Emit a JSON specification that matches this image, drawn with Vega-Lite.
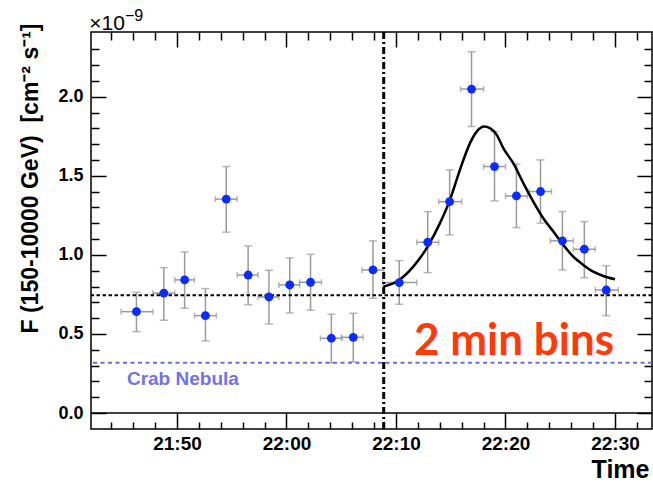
{
  "$schema": "https://vega.github.io/schema/vega-lite/v6.json",
  "width": 561,
  "height": 397,
  "autosize": {"type": "none"},
  "padding": {"left": 91, "top": 32, "right": 1, "bottom": 53},
  "background": "white",
  "config": {
    "view": {"stroke": "black", "strokeWidth": 1.5},
    "font": "Liberation Sans"
  },
  "datasets": {
    "pts": [
      {"t": 1306.3, "f": 0.641, "flo": 0.515, "fhi": 0.764, "tlo": 1304.9, "thi": 1307.8},
      {"t": 1308.8, "f": 0.758, "flo": 0.587, "fhi": 0.920, "tlo": 1307.8, "thi": 1309.8},
      {"t": 1310.7, "f": 0.842, "flo": 0.663, "fhi": 1.019, "tlo": 1309.8, "thi": 1311.6},
      {"t": 1312.6, "f": 0.616, "flo": 0.456, "fhi": 0.787, "tlo": 1311.6, "thi": 1313.6},
      {"t": 1314.5, "f": 1.353, "flo": 1.144, "fhi": 1.559, "tlo": 1313.5, "thi": 1315.5},
      {"t": 1316.5, "f": 0.873, "flo": 0.685, "fhi": 1.057, "tlo": 1315.5, "thi": 1317.4},
      {"t": 1318.4, "f": 0.734, "flo": 0.563, "fhi": 0.903, "tlo": 1317.4, "thi": 1319.3},
      {"t": 1320.3, "f": 0.810, "flo": 0.633, "fhi": 0.981, "tlo": 1319.3, "thi": 1321.2},
      {"t": 1322.2, "f": 0.827, "flo": 0.650, "fhi": 1.004, "tlo": 1321.2, "thi": 1323.2},
      {"t": 1324.1, "f": 0.473, "flo": 0.318, "fhi": 0.625, "tlo": 1323.1, "thi": 1325.1},
      {"t": 1326.1, "f": 0.479, "flo": 0.323, "fhi": 0.631, "tlo": 1325.0, "thi": 1327.0},
      {"t": 1327.9, "f": 0.905, "flo": 0.726, "fhi": 1.089, "tlo": 1326.9, "thi": 1328.9},
      {"t": 1330.3, "f": 0.825, "flo": 0.688, "fhi": 0.964, "tlo": 1328.8, "thi": 1331.9},
      {"t": 1332.9, "f": 1.080, "flo": 0.888, "fhi": 1.274, "tlo": 1331.9, "thi": 1333.9},
      {"t": 1334.9, "f": 1.337, "flo": 1.127, "fhi": 1.538, "tlo": 1333.9, "thi": 1336.0},
      {"t": 1336.9, "f": 2.049, "flo": 1.812, "fhi": 2.285, "tlo": 1335.9, "thi": 1338.0},
      {"t": 1339.0, "f": 1.559, "flo": 1.342, "fhi": 1.780, "tlo": 1338.0, "thi": 1340.0},
      {"t": 1341.0, "f": 1.373, "flo": 1.173, "fhi": 1.574, "tlo": 1340.0, "thi": 1342.0},
      {"t": 1343.2, "f": 1.401, "flo": 1.201, "fhi": 1.601, "tlo": 1342.2, "thi": 1344.2},
      {"t": 1345.2, "f": 1.089, "flo": 0.905, "fhi": 1.274, "tlo": 1344.1, "thi": 1346.2},
      {"t": 1347.2, "f": 1.036, "flo": 0.856, "fhi": 1.211, "tlo": 1346.2, "thi": 1348.2},
      {"t": 1349.2, "f": 0.778, "flo": 0.616, "fhi": 0.932, "tlo": 1348.2, "thi": 1350.3}
    ],
    "curve": [
      {"t": 1328.84, "f": 0.799}, {"t": 1330.30, "f": 0.842}, {"t": 1331.58, "f": 0.926},
      {"t": 1332.89, "f": 1.053}, {"t": 1334.02, "f": 1.201}, {"t": 1334.93, "f": 1.348},
      {"t": 1335.84, "f": 1.538}, {"t": 1336.76, "f": 1.707}, {"t": 1337.37, "f": 1.780},
      {"t": 1338.06, "f": 1.812}, {"t": 1338.58, "f": 1.802}, {"t": 1339.20, "f": 1.759},
      {"t": 1339.80, "f": 1.675}, {"t": 1340.71, "f": 1.580}, {"t": 1341.63, "f": 1.454},
      {"t": 1342.54, "f": 1.337}, {"t": 1343.45, "f": 1.232}, {"t": 1344.37, "f": 1.148},
      {"t": 1345.28, "f": 1.063}, {"t": 1346.19, "f": 0.989}, {"t": 1347.10, "f": 0.937},
      {"t": 1348.02, "f": 0.894}, {"t": 1348.93, "f": 0.867}, {"t": 1350.00, "f": 0.846}
    ],
    "refs": [
      {"name": "mean", "f": 0.745},
      {"name": "crab", "f": 0.318},
      {"name": "zero", "f": 0}
    ],
    "vline": [{"t": 1328.88}],
    "labels": [
      {"name": "bins", "text": "2 min bins", "t": 1340.78, "f": 0.367},
      {"name": "crab", "text": "Crab Nebula", "t": 1305.43, "f": 0.215},
      {"name": "exp", "text": "×10", "t": 1302.0, "f": 2.424},
      {"name": "sup", "text": "−9", "t": 1305.25, "f": 2.478}
    ]
  },
  "resolve": {"axis": {"x": "independent", "y": "independent"}},
  "layer": [
    {
      "data": {"name": "pts"},
      "mark": {"type": "rule", "color": "#9a9a9a", "strokeWidth": 1.5},
      "encoding": {
        "x": {"field": "t", "type": "quantitative",
          "scale": {"domain": [1302.15, 1353.38], "nice": false, "zero": false},
          "axis": {"orient": "bottom", "offset": -16, "values": [1310, 1320, 1330, 1340, 1350], "tickSize": 16, "tickWidth": 1.5, "tickColor": "black",
            "labelPadding": 5, "labelFont": "Liberation Sans", "labelFontWeight": "bold", "labelFontSize": 19, "labelColor": "black",
            "labelExpr": "floor(datum.value/60) + ':' + (datum.value % 60 < 10 ? '0' : '') + (datum.value % 60)",
            "labelFlush": false, "labelOverlap": false, "domain": false, "grid": false,
            "title": "Time", "titleFont": "Liberation Sans", "titleFontSize": 25, "titleFontWeight": "bold", "titleColor": "black",
            "titleAlign": "right", "titleAnchor": "end", "titleX": 558, "titleY": 64, "titleBaseline": "alphabetic"}},
        "y": {"field": "flo", "type": "quantitative",
          "scale": {"domain": [-0.101, 2.41], "nice": false, "zero": false},
          "axis": {"orient": "left", "offset": -15, "values": [0, 0.5, 1, 1.5, 2], "tickSize": 15, "tickWidth": 1.5, "tickColor": "black",
            "labelPadding": 8, "labelFont": "Liberation Sans", "labelFontWeight": "bold", "labelFontSize": 18, "labelColor": "black",
            "format": ".1f", "labelFlush": false, "labelOverlap": false, "labelBaseline": "middle", "domain": false, "grid": false,
            "title": "F (150-10000 GeV)\u00a0\u00a0[cm⁻² s⁻¹]", "titleFont": "Liberation Sans", "titleFontSize": 23, "titleFontWeight": "bold", "titleColor": "black",
            "titleAngle": -90, "titleAlign": "center", "titleBaseline": "middle", "titleX": -76, "titleY": 146}},
        "y2": {"field": "fhi"}
      }
    },
    {
      "data": {"name": "pts"},
      "mark": {"type": "rule", "color": "#9a9a9a", "strokeWidth": 1.5},
      "encoding": {
        "x": {"field": "tlo", "type": "quantitative",
          "scale": {"domain": [1302.15, 1353.38], "nice": false, "zero": false},
          "axis": {"orient": "bottom", "offset": -7, "values": [1304, 1306, 1308, 1312, 1314, 1316, 1318, 1322, 1324, 1326, 1328, 1332, 1334, 1336, 1338, 1342, 1344, 1346, 1348, 1352],
            "tickSize": 7, "tickWidth": 1.5, "tickColor": "black", "labels": false, "domain": false, "grid": false, "title": null}},
        "x2": {"field": "thi"},
        "y": {"field": "f", "type": "quantitative",
          "scale": {"domain": [-0.101, 2.41], "nice": false, "zero": false},
          "axis": {"orient": "left", "offset": -8, "values": [0.1, 0.2, 0.3, 0.4, 0.6, 0.7, 0.8, 0.9, 1.1, 1.2, 1.3, 1.4, 1.6, 1.7, 1.8, 1.9, 2.1, 2.2, 2.3],
            "tickSize": 8, "tickWidth": 1.5, "tickColor": "black", "labels": false, "domain": false, "grid": false, "title": null}}
      }
    },
    {
      "data": {"name": "pts"},
      "mark": {"type": "tick", "orient": "horizontal", "color": "#9a9a9a", "size": 8, "thickness": 1.5},
      "encoding": {
        "x": {"field": "t", "type": "quantitative",
          "scale": {"domain": [1302.15, 1353.38], "nice": false, "zero": false},
          "axis": {"orient": "top", "offset": -15, "values": [1310, 1320, 1330, 1340, 1350], "tickSize": 15, "tickWidth": 1.5, "tickColor": "black",
            "labels": false, "domain": false, "grid": false, "title": null}},
        "y": {"field": "flo", "type": "quantitative",
          "scale": {"domain": [-0.101, 2.41], "nice": false, "zero": false},
          "axis": {"orient": "right", "offset": -15, "values": [0, 0.5, 1, 1.5, 2], "tickSize": 15, "tickWidth": 1.5, "tickColor": "black",
            "labels": false, "domain": false, "grid": false, "title": null}}
      }
    },
    {
      "data": {"name": "pts"},
      "mark": {"type": "tick", "orient": "horizontal", "color": "#9a9a9a", "size": 8, "thickness": 1.5},
      "encoding": {
        "x": {"field": "t", "type": "quantitative",
          "scale": {"domain": [1302.15, 1353.38], "nice": false, "zero": false},
          "axis": {"orient": "top", "offset": -8, "values": [1304, 1306, 1308, 1312, 1314, 1316, 1318, 1322, 1324, 1326, 1328, 1332, 1334, 1336, 1338, 1342, 1344, 1346, 1348, 1352],
            "tickSize": 8, "tickWidth": 1.5, "tickColor": "black", "labels": false, "domain": false, "grid": false, "title": null}},
        "y": {"field": "fhi", "type": "quantitative",
          "scale": {"domain": [-0.101, 2.41], "nice": false, "zero": false},
          "axis": {"orient": "right", "offset": -8, "values": [0.1, 0.2, 0.3, 0.4, 0.6, 0.7, 0.8, 0.9, 1.1, 1.2, 1.3, 1.4, 1.6, 1.7, 1.8, 1.9, 2.1, 2.2, 2.3],
            "tickSize": 8, "tickWidth": 1.5, "tickColor": "black", "labels": false, "domain": false, "grid": false, "title": null}}
      }
    },
    {
      "data": {"name": "pts"},
      "mark": {"type": "tick", "orient": "vertical", "color": "#9a9a9a", "size": 6, "thickness": 1.5},
      "encoding": {
        "x": {"field": "tlo", "type": "quantitative", "scale": {"domain": [1302.15, 1353.38], "nice": false, "zero": false}, "axis": null},
        "y": {"field": "f", "type": "quantitative", "scale": {"domain": [-0.101, 2.41], "nice": false, "zero": false}, "axis": null}
      }
    },
    {
      "data": {"name": "pts"},
      "mark": {"type": "tick", "orient": "vertical", "color": "#9a9a9a", "size": 6, "thickness": 1.5},
      "encoding": {
        "x": {"field": "thi", "type": "quantitative", "scale": {"domain": [1302.15, 1353.38], "nice": false, "zero": false}, "axis": null},
        "y": {"field": "f", "type": "quantitative", "scale": {"domain": [-0.101, 2.41], "nice": false, "zero": false}, "axis": null}
      }
    },
    {
      "data": {"name": "refs"},
      "transform": [{"filter": "datum.name === 'zero'"}],
      "mark": {"type": "rule", "color": "black", "strokeWidth": 1.5},
      "encoding": {
        "y": {"field": "f", "type": "quantitative", "scale": {"domain": [-0.101, 2.41], "nice": false, "zero": false}, "axis": null}
      }
    },
    {
      "data": {"name": "refs"},
      "transform": [{"filter": "datum.name === 'mean'"}],
      "mark": {"type": "rule", "color": "black", "strokeWidth": 2, "strokeDash": [3.5, 2.5]},
      "encoding": {
        "y": {"field": "f", "type": "quantitative", "scale": {"domain": [-0.101, 2.41], "nice": false, "zero": false}, "axis": null}
      }
    },
    {
      "data": {"name": "refs"},
      "transform": [{"filter": "datum.name === 'crab'"}],
      "mark": {"type": "rule", "color": "#6b6bef", "strokeWidth": 2, "strokeDash": [4, 3.5]},
      "encoding": {
        "y": {"field": "f", "type": "quantitative", "scale": {"domain": [-0.101, 2.41], "nice": false, "zero": false}, "axis": null}
      }
    },
    {
      "data": {"name": "vline"},
      "mark": {"type": "rule", "color": "black", "strokeWidth": 3, "strokeDash": [7, 3, 2, 3]},
      "encoding": {
        "x": {"field": "t", "type": "quantitative", "scale": {"domain": [1302.15, 1353.38], "nice": false, "zero": false}, "axis": null}
      }
    },
    {
      "data": {"name": "curve"},
      "mark": {"type": "line", "color": "black", "strokeWidth": 2.5, "interpolate": "monotone"},
      "encoding": {
        "x": {"field": "t", "type": "quantitative", "scale": {"domain": [1302.15, 1353.38], "nice": false, "zero": false}, "axis": null},
        "y": {"field": "f", "type": "quantitative", "scale": {"domain": [-0.101, 2.41], "nice": false, "zero": false}, "axis": null}
      }
    },
    {
      "data": {"name": "pts"},
      "mark": {"type": "circle", "color": "#0a2cff", "size": 78, "opacity": 1},
      "encoding": {
        "x": {"field": "t", "type": "quantitative", "scale": {"domain": [1302.15, 1353.38], "nice": false, "zero": false}, "axis": null},
        "y": {"field": "f", "type": "quantitative", "scale": {"domain": [-0.101, 2.41], "nice": false, "zero": false}, "axis": null}
      }
    },
    {
      "data": {"name": "labels"},
      "transform": [{"filter": "datum.name === 'bins'"}],
      "mark": {"type": "text", "color": "#ff3a0a", "font": "Lato", "fontWeight": "bold", "fontSize": 44, "align": "center", "baseline": "alphabetic"},
      "encoding": {
        "x": {"field": "t", "type": "quantitative", "scale": {"domain": [1302.15, 1353.38], "nice": false, "zero": false}, "axis": null},
        "y": {"field": "f", "type": "quantitative", "scale": {"domain": [-0.101, 2.41], "nice": false, "zero": false}, "axis": null},
        "text": {"field": "text"}
      }
    },
    {
      "data": {"name": "labels"},
      "transform": [{"filter": "datum.name === 'crab'"}],
      "mark": {"type": "text", "color": "#6f74e8", "font": "Liberation Sans", "fontWeight": "bold", "fontSize": 19, "align": "left", "baseline": "middle"},
      "encoding": {
        "x": {"field": "t", "type": "quantitative", "scale": {"domain": [1302.15, 1353.38], "nice": false, "zero": false}, "axis": null},
        "y": {"field": "f", "type": "quantitative", "scale": {"domain": [-0.101, 2.41], "nice": false, "zero": false}, "axis": null},
        "text": {"field": "text"}
      }
    },
    {
      "data": {"name": "labels"},
      "transform": [{"filter": "datum.name === 'exp'"}],
      "mark": {"type": "text", "color": "black", "font": "Liberation Sans", "fontSize": 21, "align": "left", "baseline": "alphabetic"},
      "encoding": {
        "x": {"field": "t", "type": "quantitative", "scale": {"domain": [1302.15, 1353.38], "nice": false, "zero": false}, "axis": null},
        "y": {"field": "f", "type": "quantitative", "scale": {"domain": [-0.101, 2.41], "nice": false, "zero": false}, "axis": null},
        "text": {"field": "text"}
      }
    },
    {
      "data": {"name": "labels"},
      "transform": [{"filter": "datum.name === 'sup'"}],
      "mark": {"type": "text", "color": "black", "font": "Liberation Sans", "fontSize": 16, "align": "left", "baseline": "alphabetic"},
      "encoding": {
        "x": {"field": "t", "type": "quantitative", "scale": {"domain": [1302.15, 1353.38], "nice": false, "zero": false}, "axis": null},
        "y": {"field": "f", "type": "quantitative", "scale": {"domain": [-0.101, 2.41], "nice": false, "zero": false}, "axis": null},
        "text": {"field": "text"}
      }
    }
  ]
}
